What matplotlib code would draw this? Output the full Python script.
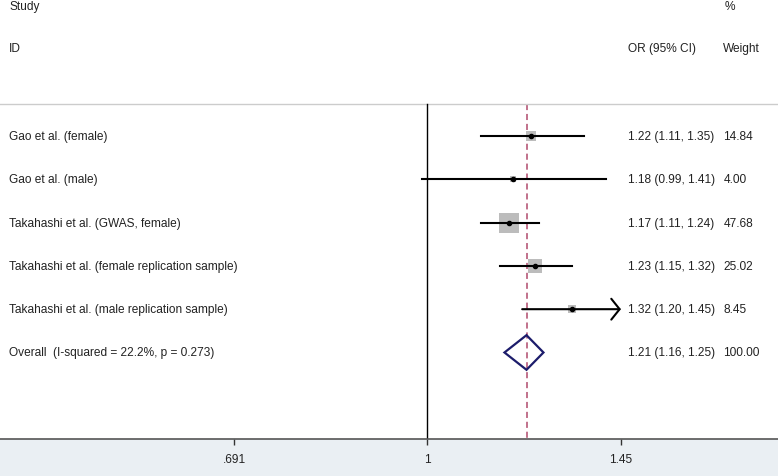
import numpy as np
import matplotlib.pyplot as plt
from matplotlib.transforms import blended_transform_factory

plt.rcParams['font.family'] = ['Liberation Sans', 'DejaVu Sans']

studies = ["Gao et al. (female)", "Gao et al. (male)", "Takahashi et al. (GWAS, female)",
           "Takahashi et al. (female replication sample)", "Takahashi et al. (male replication sample)"]
ors = [1.22, 1.18, 1.17, 1.23, 1.32]
lo = [1.11, 0.99, 1.11, 1.15, 1.20]
hi = [1.35, 1.41, 1.24, 1.32, 1.45]
weights = [14.84, 4.00, 47.68, 25.02, 8.45]
overall = (1.21, 1.16, 1.25)
overall_label = "Overall  (I-squared = 22.2%, p = 0.273)"
xticks = [0.691, 1, 1.45]
xticklabels = [".691", "1", "1.45"]

fig = plt.figure(figsize=(7.78, 4.77), dpi=100)
fig.patch.set_facecolor('#eaeff3')
ax = fig.add_axes([0, 37 / 477, 1, 440 / 477])
ax.set_facecolor('white')
ax.set_xscale('log')
ax.set_xlim(np.exp(-427 / 522), np.exp(351 / 522))
ax.set_ylim(6.998, -3.164)

fs = 8.6
txt = dict(fontsize=fs, color='#222222', va='center')
tr = blended_transform_factory(ax.transAxes, ax.transData)

# header
ax.text(0.0116, -3.0, "Study", transform=tr, **txt)
ax.text(0.0116, -2.03, "ID", transform=tr, **txt)
ax.text(0.807, -2.03, "OR (95% CI)", transform=tr, **txt)
ax.text(0.931, -3.0, "%", transform=tr, **txt)
ax.text(0.929, -2.03, "Weight", transform=tr, **txt)
ax.axhline(-0.75, color='#cccccc', lw=1)

# reference lines
ax.plot([1, 1], [-0.75, 6.998], color='black', lw=1, zorder=2)
ax.plot([overall[0]] * 2, [-0.75, 6.998], color='#b04a6c', lw=1.1, ls=(0, (4, 2.5)), zorder=1)

for i, (s, o, l, h, w) in enumerate(zip(studies, ors, lo, hi, weights)):
    ax.scatter([o], [i], marker='s', s=4.2 * w, color='#bcbcbc', lw=0, zorder=3)
    if h >= xticks[-1]:
        ax.annotate("", xy=(h, i), xytext=(l, i),
                    arrowprops=dict(arrowstyle='->, head_length=0.6, head_width=0.75',
                                    color='black', lw=1.5, shrinkA=0, shrinkB=0),
                    zorder=4)
    else:
        ax.plot([l, h], [i, i], color='black', lw=1.5, zorder=4)
    ax.plot([o], [i], 'o', color='black', ms=3, zorder=5)
    ax.text(0.0116, i, s, transform=tr, **txt)
    ax.text(0.807, i, f"{o:.2f} ({l:.2f}, {h:.2f})", transform=tr, **txt)
    ax.text(0.930, i, f"{w:.2f}", transform=tr, **txt)

# overall diamond
k = len(studies)
ax.fill([overall[1], overall[0], overall[2], overall[0], overall[1]],
        [k, k - 0.4, k, k + 0.4, k], facecolor='none', edgecolor='#1c1c6b', lw=1.6, zorder=4)
ax.text(0.0116, k, overall_label, transform=tr, **txt)
ax.text(0.807, k, f"{overall[0]:.2f} ({overall[1]:.2f}, {overall[2]:.2f})", transform=tr, **txt)
ax.text(0.930, k, "100.00", transform=tr, **txt)

for sp in ['top', 'left', 'right']:
    ax.spines[sp].set_visible(False)
ax.spines['bottom'].set_color('#555555')
ax.spines['bottom'].set_linewidth(1.2)
ax.set_yticks([])
ax.set_xticks(xticks)
ax.set_xticklabels(xticklabels, fontsize=fs, color='#222222')
ax.xaxis.set_minor_locator(plt.NullLocator())
ax.tick_params(axis='x', length=4, width=1, color='#333333', pad=6)

fig.savefig("out.png", dpi=100, facecolor=fig.get_facecolor())
